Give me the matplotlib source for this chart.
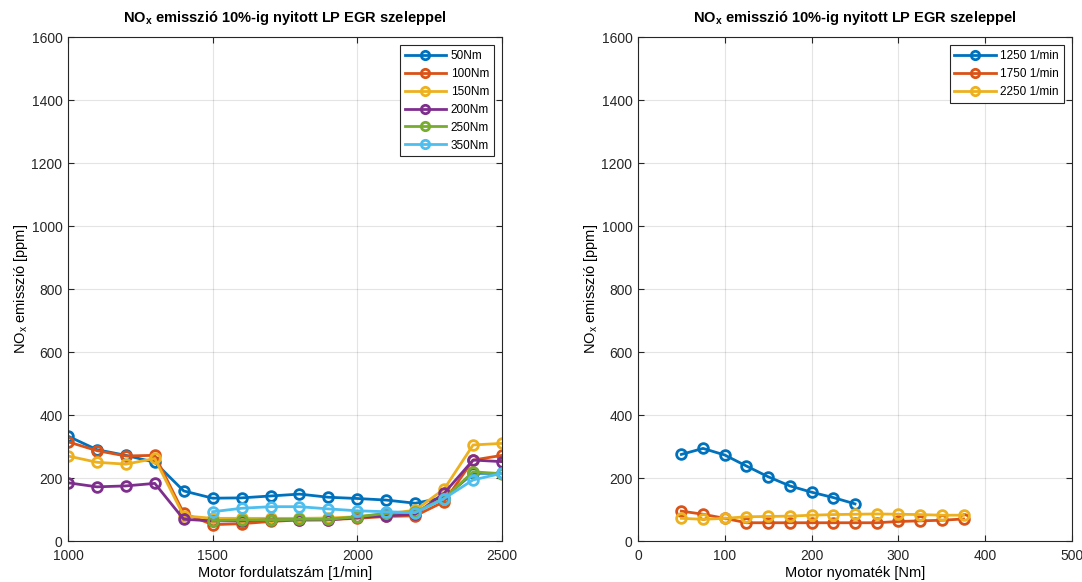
import matplotlib.pyplot as plt
import numpy as np

plt.rcParams['font.family'] = ['Liberation Sans', 'DejaVu Sans']
plt.rcParams['mathtext.fontset'] = 'custom'
plt.rcParams['mathtext.rm'] = 'Liberation Sans'
plt.rcParams['mathtext.it'] = 'Liberation Sans'
plt.rcParams['mathtext.bf'] = 'Liberation Sans:bold'

# bal oldali abra: fordulatszam szerint
speed = [1000, 1100, 1200, 1300, 1400, 1500, 1600, 1700, 1800, 1900, 2000, 2100, 2200, 2300, 2400, 2500]
nox_50 = [333, 290, 272, 250, 159, 136, 137, 143, 149, 139, 135, 130, 120, 138, 215, 215]
nox_100 = [315, 287, 270, 272, 88, 52, 55, 62, 67, 68, 72, 78, 80, 125, 257, 272]
nox_150 = [270, 250, 244, 262, 80, 72, 72, 72, 72, 73, 77, 86, 98, 165, 305, 310]
nox_200 = [185, 172, 175, 183, 69, 64, 64, 67, 67, 67, 75, 80, 85, 152, 257, 252]
speed_hi = speed[5:]
nox_250 = [65, 67, 67, 69, 69, 77, 88, 93, 135, 220, 213]
nox_350 = [93, 104, 109, 109, 102, 96, 93, 90, 135, 194, 215]

# jobb oldali abra: nyomatek szerint
torque_1250 = [50, 75, 100, 125, 150, 175, 200, 225, 250]
nox_1250 = [275, 294, 273, 238, 204, 175, 155, 138, 118]
torque = [50, 75, 100, 125, 150, 175, 200, 225, 250, 275, 300, 325, 350, 375]
nox_1750 = [95, 85, 72, 58, 58, 58, 58, 58, 58, 58, 62, 64, 66, 70]
nox_2250 = [72, 69, 72, 77, 78, 79, 82, 84, 85, 86, 85, 84, 82, 82]

colors = ['#0072BD', '#D95319', '#EDB120', '#7E2F8E', '#77AC30', '#4DBEEE']
title = r'NO$_\mathbf{x}$ emisszió 10%-ig nyitott LP EGR szeleppel'
ylab = r'NO$_x$ emisszió [ppm]'

fig = plt.figure(figsize=(10.82, 5.82), dpi=100)
ax1 = fig.add_axes([0.0628, 0.0704, 0.4012, 0.866])
ax2 = fig.add_axes([0.5896, 0.0704, 0.4012, 0.866])

style = dict(marker='o', lw=2, ms=7, mew=2, mfc='none')

left = [(speed, nox_50, '50Nm'), (speed, nox_100, '100Nm'), (speed, nox_150, '150Nm'),
        (speed, nox_200, '200Nm'), (speed_hi, nox_250, '250Nm'), (speed_hi, nox_350, '350Nm')]
for (x, y, lab), c in zip(left, colors):
    ax1.plot(x, y, color=c, label=lab, **style)

right = [(torque_1250, nox_1250, '1250 1/min'), (torque, nox_1750, '1750 1/min'),
         (torque, nox_2250, '2250 1/min')]
for (x, y, lab), c in zip(right, colors):
    ax2.plot(x, y, color=c, label=lab, **style)

ax1.set_xlim(1000, 2500)
ax1.set_xticks([1000, 1500, 2000, 2500])
ax1.set_xlabel('Motor fordulatszám [1/min]', fontsize=10.5, labelpad=2)
ax2.set_xlim(0, 500)
ax2.set_xticks(np.arange(0, 501, 100))
ax2.set_xlabel('Motor nyomaték [Nm]', fontsize=10.5, labelpad=2)

for ax in (ax1, ax2):
    ax.set_ylim(0, 1600)
    ax.set_yticks(np.arange(0, 1601, 200))
    ax.set_ylabel(ylab, fontsize=10.5, labelpad=1)
    ax.set_title(title, fontsize=10.5, fontweight='bold', pad=11)
    ax.grid(True, color='#262626', alpha=0.12, lw=0.8)
    ax.tick_params(direction='in', labelsize=10, colors='#262626', top=True, right=True,
                   labeltop=False, labelright=False, length=4)
    ax.tick_params(axis='x', pad=6)
    ax.tick_params(axis='y', pad=4)
    for s in ax.spines.values():
        s.set_color('#262626')
        s.set_linewidth(0.8)
    leg = ax.legend(loc='upper right', fontsize=8.5, fancybox=False, framealpha=1,
                    edgecolor='#262626', handlelength=3.5, borderpad=0.4,
                    labelspacing=0.5, borderaxespad=0.7, handletextpad=0.4)
    leg.get_frame().set_linewidth(0.8)
    for h in leg.get_lines():
        h.set_markersize(6)

fig.savefig('out.png', dpi=100)
